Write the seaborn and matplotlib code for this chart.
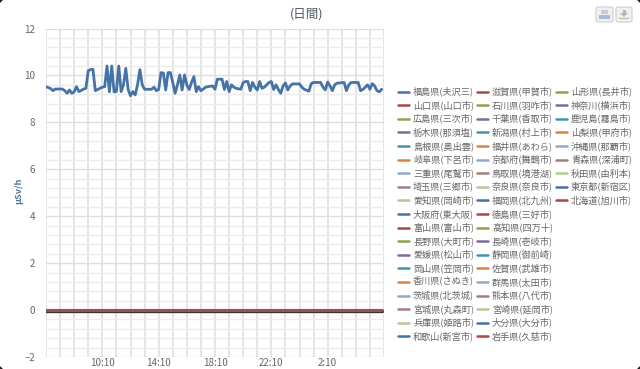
import numpy as np
import pandas as pd
import seaborn as sns
import matplotlib.pyplot as plt
from matplotlib.ticker import MultipleLocator, FixedLocator
from matplotlib.patches import FancyBboxPatch, Polygon
from matplotlib.transforms import ScaledTranslation

sns.set_theme(style="white")
plt.rcParams['font.family'] = ['Noto Sans CJK JP', 'DejaVu Sans']

# 10 minute readings from 6:10, Fukushima station
fukushima = [9.52, 9.48, 9.44, 9.35, 9.42, 9.42, 9.42, 9.42, 9.35, 9.24, 9.38, 9.24, 9.3, 9.52, 9.31, 9.36,
             9.42, 9.45, 10.2, 10.25, 10.26, 9.35, 9.4, 9.45, 9.5, 9.52, 10.4, 9.3, 10.4, 9.3, 9.32, 10.4,
             9.31, 9.6, 10.3, 9.4, 9.13, 9.31, 9.17, 9.6, 10.25, 9.6, 9.41, 9.41, 9.41, 9.41, 9.5, 9.35,
             9.4, 10.12, 10.1, 9.38, 10.12, 10.12, 9.7, 9.24, 9.6, 10.02, 9.38, 10.02, 9.6, 9.4, 9.7, 9.95,
             9.31, 9.52, 9.35, 9.42, 9.5, 9.52, 9.54, 9.55, 9.41, 9.84, 9.84, 9.84, 9.4, 9.74, 9.31, 9.6,
             9.5, 9.45, 9.43, 9.41, 9.7, 9.74, 9.74, 9.35, 9.7, 9.5, 9.38, 9.74, 9.45, 9.5, 9.6, 9.7,
             9.74, 9.4, 9.6, 9.4, 9.24, 9.55, 9.68, 9.38, 9.55, 9.64, 9.64, 9.64, 9.64, 9.5, 9.41, 9.37,
             9.33, 9.65, 9.7, 9.7, 9.7, 9.7, 9.5, 9.38, 9.72, 9.55, 9.35, 9.6, 9.67, 9.68, 9.69, 9.7,
             9.35, 9.6, 9.7, 9.7, 9.7, 9.7, 9.35, 9.4, 9.5, 9.6, 9.41, 9.65, 9.55, 9.35, 9.3, 9.41]
start_hour = 6 + 10 / 60
tick_labels = ['10:10', '14:10', '18:10', '22:10', '2:10']
tick_hours = [10 + 10 / 60, 14 + 10 / 60, 18 + 10 / 60, 22 + 10 / 60, 26 + 10 / 60]

legend_col1 = ['福島県(夫沢三)', '山口県(山口市)', '広島県(三次市)', '栃木県(那須塩)', '島根県(奥出雲)', '岐阜県(下呂市)',
               '三重県(尾鷲市)', '埼玉県(三郷市)', '愛知県(岡崎市)', '大阪府(東大阪)', '富山県(富山市)', '長野県(大町市)',
               '愛媛県(松山市)', '岡山県(笠岡市)', '香川県(さぬき)', '茨城県(北茨城)', '宮城県(丸森町)', '兵庫県(姫路市)',
               '和歌山(新宮市)']
legend_col2 = ['滋賀県(甲賀市)', '石川県(羽咋市)', '千葉県(香取市)', '新潟県(村上市)', '福井県(あわら)', '京都府(舞鶴市)',
               '鳥取県(境港湖)', '奈良県(奈良市)', '福岡県(北九州)', '徳島県(三好市)', '高知県(四万十)', '長崎県(壱岐市)',
               '静岡県(御前崎)', '佐賀県(武雄市)', '群馬県(太田市)', '熊本県(八代市)', '宮崎県(延岡市)', '大分県(大分市)',
               '岩手県(久慈市)']
legend_col3 = ['山形県(長井市)', '神奈川(横浜市)', '鹿児島(霧島市)', '山梨県(甲府市)', '沖縄県(那覇市)', '青森県(深浦町)',
               '秋田県(由利本)', '東京都(新宿区)', '北海道(旭川市)']
palette = ['#4572A7', '#AA4643', '#89A54E', '#80699B', '#3D96AE', '#DB843D', '#92A8CD', '#A47D7C', '#B5CA92']

hours = start_hour + np.arange(len(fukushima)) / 6
df = pd.DataFrame({'hour': hours, 'value': fukushima, 'zero': 0.0})

W, H = 640, 369
fig = plt.figure(figsize=(W / 100, H / 100), dpi=100, facecolor='white')
ax = fig.add_axes([46 / W, 1 - 357 / H, (384 - 46) / W, (357 - 28.5) / H])

sns.lineplot(data=df, x='hour', y='value', color='#4572A7', lw=2.0, ax=ax, zorder=5)

# the other stations all sit on zero, drawn one over the other
down = ax.transData + ScaledTranslation(0, -0.8 / 100, fig.dpi_scale_trans)
up = ax.transData + ScaledTranslation(0, 0.5 / 100, fig.dpi_scale_trans)
sns.lineplot(data=df, x='hour', y='zero', color='#3a3030', lw=2.4, ax=ax, zorder=5, transform=down)
sns.lineplot(data=df, x='hour', y='zero', color='#96524f', lw=2.2, ax=ax, zorder=6, transform=up)

ax.set_xlim(start_hour, start_hour + 24)
ax.set_ylim(-2, 12)
ax.xaxis.set_major_locator(FixedLocator(tick_hours))
ax.xaxis.set_minor_locator(FixedLocator(start_hour + np.arange(0, 25)))
ax.yaxis.set_major_locator(MultipleLocator(2))
ax.yaxis.set_minor_locator(MultipleLocator(0.4))
ax.set_xticklabels(tick_labels)
ax.grid(which='major', axis='x', color='#dcdcdc', lw=1.1)
ax.grid(which='minor', axis='x', color='#dcdcdc', lw=1.1)
ax.grid(which='major', axis='y', color='#dedede', lw=1)
ax.grid(which='minor', axis='y', color='#ececec', lw=1)
ax.set_axisbelow(True)
for s in ax.spines.values():
    s.set_visible(False)
ax.tick_params(axis='both', which='both', length=0, labelsize=7, labelcolor='#666666')
ax.tick_params(axis='y', pad=8)
ax.tick_params(axis='x', pad=1)
ax.set_xlabel('')
ax.set_ylabel('')
fig.text(19 / W, 1 - 191 / H, 'μSv/h', rotation=90, ha='center', va='center',
         fontsize=6.5, color='#4d759e', fontweight='bold')
fig.text(307 / W, 1 - 14 / H, '(日間)', ha='center', va='center', fontsize=9, color='#4d5a68')

# legend drawn by hand, three columns in figure pixels
col_x = [412, 491, 570]
row_y0, row_dy = 91.5, 13.6
for k, col in enumerate([legend_col1, legend_col2, legend_col3]):
    for i, name in enumerate(col):
        y = 1 - (row_y0 + i * row_dy) / H
        fig.add_artist(plt.Line2D([(col_x[k] - 14) / W, (col_x[k] - 3) / W], [y, y], lw=1.8,
                                  color=palette[(i + k) % len(palette)], transform=fig.transFigure))
        fig.text((col_x[k] + 1) / W, y, name, fontsize=6.6, color='#666666', ha='left', va='center')

# export buttons, printer and download icons
for x0, w in [(596, 17), (616, 16)]:
    fig.add_artist(FancyBboxPatch((x0 / W, 1 - 22 / H), w / W, 15 / H, boxstyle='round,pad=0,rounding_size=0.004',
                                  transform=fig.transFigure, fc='#f0f0f0', ec='#d0d0d0', lw=0.8))
fig.add_artist(plt.Rectangle((601 / W, 1 - 14 / H), 7 / W, 4 / H, transform=fig.transFigure, fc='#c0cede', ec='none'))
fig.add_artist(plt.Rectangle((599 / W, 1 - 19 / H), 11 / W, 4 / H, transform=fig.transFigure, fc='#a9bcd4', ec='none'))
fig.add_artist(Polygon([(620 / W, 1 - 13 / H), (628 / W, 1 - 13 / H), (624 / W, 1 - 17 / H)], closed=True,
                       transform=fig.transFigure, fc='#b5bb9f', ec='none'))
fig.add_artist(plt.Rectangle((622.5 / W, 1 - 13 / H), 3 / W, 3 / H, transform=fig.transFigure, fc='#b5bb9f', ec='none'))
fig.add_artist(plt.Rectangle((619 / W, 1 - 19 / H), 10 / W, 1.5 / H, transform=fig.transFigure, fc='#b5bb9f', ec='none'))

# dark corners of the screenshot
for cx, cy, dx, dy in [(0, 0, 1, 1), (0, H, 1, -1), (W, 0, -1, 1), (W, H, -1, -1)]:
    fig.add_artist(Polygon([(cx / W, 1 - cy / H), ((cx + 3 * dx) / W, 1 - cy / H), (cx / W, 1 - (cy + 3 * dy) / H)],
                           closed=True, transform=fig.transFigure, fc='#222222', ec='none'))

fig.savefig('out.png', dpi=100)
